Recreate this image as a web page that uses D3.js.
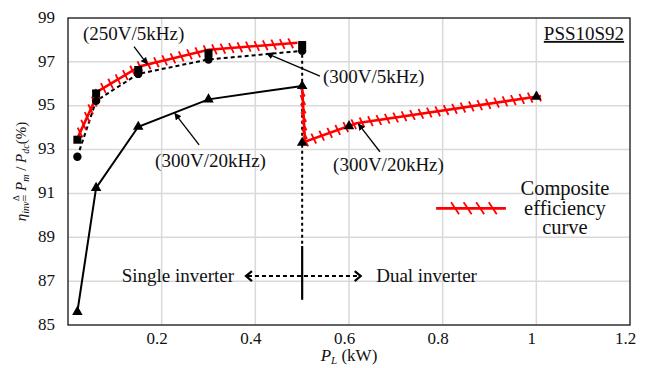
<!DOCTYPE html>
<html>
<head>
<meta charset="utf-8">
<script src="https://cdn.jsdelivr.net/npm/d3@7"></script>
<style>
  body { margin: 0; background: #fff; }
  svg { display: block; font-family: "Liberation Serif", "Times New Roman", serif; }
</style>
</head>
<body>
<div id="chart"></div>
<script>
// load P_L in kW, efficiency in %
const xTicks = [0.2, 0.4, 0.6, 0.8, 1, 1.2];
const yTicks = [85, 87, 89, 91, 93, 95, 97, 99];

const load250V5k = [0.02, 0.06, 0.15, 0.30, 0.50];
const eff250V5k  = [93.45, 95.56, 96.63, 97.39, 97.77];

const load300V5k = [0.02, 0.06, 0.15, 0.30, 0.50];
const eff300V5k  = [92.67, 95.22, 96.45, 97.11, 97.5];

const load300V20kSingle = [0.02, 0.06, 0.15, 0.30, 0.50];
const eff300V20kSingle  = [85.6, 91.25, 94.04, 95.29, 95.9];

const load300V20kDual = [0.50, 0.60, 1.0];
const eff300V20kDual  = [93.31, 94.07, 95.41];

// composite efficiency curve, two pieces
const compLoadA = [0.022, 0.067, 0.154, 0.30, 0.49];
const compEffA  = [93.6, 95.7, 96.8, 97.55, 97.87];
const compLoadB = [0.50, 0.506, 0.616, 1.01];
const compEffB  = [95.84, 93.36, 94.2, 95.44];

const legendLines = ['Composite', 'efficiency', 'curve'];

const W = 649, H = 368;
const margin = { top: 18, right: 19, bottom: 43, left: 68 };

const zip = (xs, ys) => xs.map((v, i) => [v, ys[i]]);

const svg = d3.select('#chart').append('svg')
  .attr('width', W).attr('height', H);

svg.append('rect').attr('width', W).attr('height', H).attr('fill', '#fff');

const x = d3.scaleLinear().domain([0, 1.2]).range([margin.left, W - margin.right]);
const y = d3.scaleLinear().domain([85, 99]).range([H - margin.bottom, margin.top]);

// grid
const grid = svg.append('g').attr('stroke', '#d9d9d9').attr('stroke-width', 1.5);
grid.selectAll('line.v').data(xTicks.slice(0, -1)).enter().append('line')
  .attr('x1', d => x(d)).attr('x2', d => x(d))
  .attr('y1', y(85)).attr('y2', y(99));
grid.selectAll('line.h').data(yTicks.slice(1, -1)).enter().append('line')
  .attr('x1', x(0)).attr('x2', x(1.2))
  .attr('y1', d => y(d)).attr('y2', d => y(d));

// tick labels
const xAxis = svg.append('g')
  .attr('transform', `translate(0,${y(85)})`)
  .call(d3.axisBottom(x).tickValues(xTicks).tickSize(0).tickPadding(7).tickFormat(d3.format('~g')));
const yAxis = svg.append('g')
  .attr('transform', `translate(${x(0)},0)`)
  .call(d3.axisLeft(y).tickValues(yTicks).tickSize(0).tickPadding(13));
[xAxis, yAxis].forEach(a => {
  a.select('.domain').remove();
  a.selectAll('text').attr('font-size', 17).attr('fill', '#111')
    .attr('font-family', '"Liberation Serif", serif');
});
xAxis.selectAll('text').attr('dx', -5);
yAxis.selectAll('text').attr('dy', '0.25em');

// frame
svg.append('rect')
  .attr('x', x(0)).attr('y', y(99))
  .attr('width', x(1.2) - x(0)).attr('height', y(85) - y(99))
  .attr('fill', 'none').attr('stroke', '#111').attr('stroke-width', 1.3);

const line = d3.line().x(d => x(d[0])).y(d => y(d[1]));

// 0.5 kW split line
svg.append('line')
  .attr('x1', x(0.5)).attr('x2', x(0.5)).attr('y1', y(97.6)).attr('y2', y(88.6))
  .attr('stroke', '#000').attr('stroke-width', 2).attr('stroke-dasharray', '3,3');
svg.append('line')
  .attr('x1', x(0.5)).attr('x2', x(0.5)).attr('y1', y(88.6)).attr('y2', y(86.15))
  .attr('stroke', '#000').attr('stroke-width', 2.2);

// series lines
svg.append('path').datum(zip(load300V5k, eff300V5k))
  .attr('d', line).attr('fill', 'none').attr('stroke', '#000')
  .attr('stroke-width', 2).attr('stroke-dasharray', '4,3');
svg.append('path').datum(zip(load300V20kSingle, eff300V20kSingle))
  .attr('d', line).attr('fill', 'none').attr('stroke', '#000').attr('stroke-width', 2);

// composite curve with hatch ticks
function hatch(node, g, spacing, len, angle) {
  const total = node.getTotalLength();
  const a = angle * Math.PI / 180;
  const dx = Math.cos(a) * len / 2, dy = Math.sin(a) * len / 2;
  for (let l = spacing / 2; l < total; l += spacing) {
    const p = node.getPointAtLength(l);
    g.append('line')
      .attr('x1', p.x - dx).attr('y1', p.y - dy)
      .attr('x2', p.x + dx).attr('y2', p.y + dy);
  }
}
const comp = svg.append('g').attr('stroke', '#ff0000').attr('fill', 'none');
[zip(compLoadA, compEffA), zip(compLoadB, compEffB)].forEach(pts => {
  const p = comp.append('path').datum(pts).attr('d', line).attr('stroke-width', 2.6);
  hatch(p.node(), comp.append('g').attr('stroke-width', 1.8), 8.5, 11, 64);
});

// markers
const marks = svg.append('g').attr('fill', '#000');
marks.selectAll('rect').data(zip(load250V5k, eff250V5k)).enter().append('rect')
  .attr('x', d => x(d[0]) - 4).attr('y', d => y(d[1]) - 4)
  .attr('width', 8).attr('height', 8);
marks.selectAll('circle').data(zip(load300V5k, eff300V5k)).enter().append('circle')
  .attr('cx', d => x(d[0])).attr('cy', d => y(d[1])).attr('r', 4.2);
const tri = d3.symbol(d3.symbolTriangle, 48);
marks.selectAll('path.tri')
  .data(zip(load300V20kSingle, eff300V20kSingle).concat(zip(load300V20kDual, eff300V20kDual)))
  .enter().append('path').attr('class', 'tri')
  .attr('transform', d => `translate(${x(d[0])},${y(d[1])})`).attr('d', tri);

// annotations
const defs = svg.append('defs');
defs.append('marker').attr('id', 'ah')
  .attr('viewBox', '0 0 10 10').attr('refX', 9).attr('refY', 5)
  .attr('markerWidth', 7).attr('markerHeight', 7).attr('orient', 'auto')
  .attr('markerUnits', 'userSpaceOnUse')
  .append('path').attr('d', 'M0,0L10,5L0,10Z').attr('fill', '#000');

const notes = [
  { text: '(250V/5kHz)', tx: 0.032, ty: 98.0, from: [0.141, 97.69], to: [0.169, 96.9] },
  { text: '(300V/5kHz)', tx: 0.5445, ty: 96.04, from: [0.538, 96.35], to: [0.424, 97.39] },
  { text: '(300V/20kHz)', tx: 0.186, ty: 92.22, from: [0.280, 93.21], to: [0.228, 94.65] },
  { text: '(300V/20kHz)', tx: 0.566, ty: 92.04, from: [0.666, 92.90], to: [0.620, 94.17] }
];
notes.forEach(n => {
  svg.append('text').attr('x', x(n.tx)).attr('y', y(n.ty))
    .attr('font-size', 19).attr('fill', '#111').text(n.text);
  svg.append('line')
    .attr('x1', x(n.from[0])).attr('y1', y(n.from[1]))
    .attr('x2', x(n.to[0])).attr('y2', y(n.to[1]))
    .attr('stroke', '#000').attr('stroke-width', 1.3).attr('marker-end', 'url(#ah)');
});

svg.append('text').attr('x', x(1.016)).attr('y', y(98.0))
  .attr('font-size', 19).attr('fill', '#111')
  .attr('text-decoration', 'underline').text('PSS10S92');

// single / dual inverter region arrow
const ay = y(87.23), ax0 = x(0.38), ax1 = x(0.625);
svg.append('line').attr('x1', ax0 + 2).attr('x2', ax1 - 2).attr('y1', ay).attr('y2', ay)
  .attr('stroke', '#000').attr('stroke-width', 2).attr('stroke-dasharray', '4,3');
svg.append('path').attr('d', `M${ax0 + 6},${ay - 5}L${ax0},${ay}L${ax0 + 6},${ay + 5}`)
  .attr('fill', 'none').attr('stroke', '#000').attr('stroke-width', 2.2);
svg.append('path').attr('d', `M${ax1 - 6},${ay - 5}L${ax1},${ay}L${ax1 - 6},${ay + 5}`)
  .attr('fill', 'none').attr('stroke', '#000').attr('stroke-width', 2.2);
svg.append('text').attr('x', x(0.3545)).attr('y', y(86.97)).attr('text-anchor', 'end')
  .attr('font-size', 19).attr('fill', '#111').text('Single inverter');
svg.append('text').attr('x', x(0.658)).attr('y', y(86.97))
  .attr('font-size', 19).attr('fill', '#111').text('Dual inverter');

// legend
const ly = y(90.32);
const lg = svg.append('g').attr('stroke', '#ff0000');
lg.append('path').attr('d', `M${x(0.786)},${ly}H${x(0.935)}`).attr('stroke-width', 2.6);
const lt = lg.append('g').attr('stroke-width', 1.8);
[0.2, 0.38, 0.56, 0.74].forEach(f => {
  const cx = x(0.786) + f * (x(0.935) - x(0.786)) + 5;
  lt.append('line').attr('x1', cx - 4).attr('y1', ly - 6).attr('x2', cx + 4).attr('y2', ly + 6);
});
legendLines.forEach((s, i) => {
  svg.append('text').attr('text-anchor', 'middle').attr('font-size', 20.5).attr('fill', '#111')
    .attr('x', x(1.061)).attr('y', 195 + i * 19.5).text(s);
});

// axis titles
const xt = svg.append('text').attr('x', x(0.6)).attr('y', 361)
  .attr('text-anchor', 'middle').attr('font-size', 17).attr('fill', '#111');
xt.append('tspan').attr('font-style', 'italic').text('P');
xt.append('tspan').attr('font-style', 'italic').attr('font-size', 11).attr('dy', 3).text('L');
xt.append('tspan').attr('dy', -3).text(' (kW)');

const yg = svg.append('g').attr('transform', `translate(26,${(y(85) + y(99)) / 2}) rotate(-90)`);
const yt = yg.append('text').attr('text-anchor', 'middle').attr('font-size', 15).attr('fill', '#111');
yt.append('tspan').attr('font-style', 'italic').text('η');
yt.append('tspan').attr('font-style', 'italic').attr('font-size', 10).attr('dy', 3).text('inv');
yt.append('tspan').attr('font-size', 12).text('=');
yt.append('tspan').attr('dy', -3).text(' ');
yt.append('tspan').attr('font-style', 'italic').text('P');
yt.append('tspan').attr('font-style', 'italic').attr('font-size', 10).attr('dy', 3).text('m');
yt.append('tspan').attr('dy', -3).text(' / ');
yt.append('tspan').attr('font-style', 'italic').text('P');
yt.append('tspan').attr('font-style', 'italic').attr('font-size', 10).attr('dy', 3).text('dc');
yt.append('tspan').attr('dy', -3).text('(%)');
// small delta above the equals sign
const eq = yt.node().getExtentOfChar(4);
yg.append('text').attr('x', eq.x + eq.width / 2).attr('y', eq.y + 1)
  .attr('text-anchor', 'middle').attr('font-size', 9).attr('fill', '#111').text('Δ');
</script>
</body>
</html>
